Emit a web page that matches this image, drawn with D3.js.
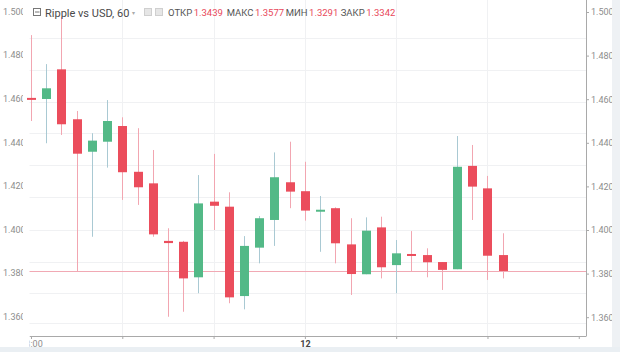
<!DOCTYPE html>
<html><head><meta charset="utf-8">
<script src="https://cdn.jsdelivr.net/npm/d3@7"></script>
<style>html,body{margin:0;padding:0;background:#fff;}svg{display:block;}</style>
</head><body>
<svg id="chart" width="620" height="352"></svg>
<script>
// ---- data ----
const opens  = [1.4606,1.4601,1.4737,1.4508,1.4359,1.4405,1.4477,1.4267,1.4214,1.3950,1.3946,1.3783,1.4130,1.4107,1.3697,1.3919,1.4046,1.4219,1.4178,1.4084,1.4100,1.3934,1.3797,1.4012,1.3839,1.3890,1.3885,1.3853,1.3820,1.4294,1.4191,1.3885];
const highs  = [1.4894,1.4761,1.4977,1.4546,1.4444,1.4596,1.4517,1.4467,1.4367,1.4008,1.3950,1.4252,1.4349,1.4173,1.3972,1.4064,1.4356,1.4405,1.4313,1.4156,1.4104,1.4054,1.4058,1.4061,1.3954,1.3995,1.3916,1.3853,1.4431,1.4390,1.4248,1.3985];
const lows   = [1.4500,1.4398,1.4436,1.3809,1.3969,1.4286,1.4138,1.4115,1.3969,1.3602,1.3625,1.3710,1.4000,1.3664,1.3636,1.3847,1.3927,1.4100,1.4043,1.3900,1.3847,1.3702,1.3797,1.3778,1.3710,1.3809,1.3783,1.3725,1.3820,1.4046,1.3771,1.3778];
const closes = [1.4602,1.4650,1.4485,1.4350,1.4410,1.4500,1.4265,1.4196,1.3980,1.3940,1.3778,1.4122,1.4111,1.3691,1.3927,1.4054,1.4242,1.4176,1.4089,1.4093,1.3939,1.3798,1.3997,1.3829,1.3893,1.3881,1.3852,1.3817,1.4290,1.4199,1.3882,1.3812];
const priceTicks = [1.500,1.480,1.460,1.440,1.420,1.400,1.380,1.360];
const gridPrices = [1.4881,1.4734,1.4587,1.4445,1.4298,1.4151,1.4000,1.3853,1.3711,1.3573];
const timeTickIdx = [0,6,12,18,24,30,36];
const timeTickLabels = ["18:00","","","12","","",""];
const legendLabels = ["ОТКР","МАКС","МИН","ЗАКР"];
const legendValues = ["1.3439","1.3577","1.3291","1.3342"];
const title = "Ripple vs USD, 60";

// ---- layout ----
const svg = d3.select("#chart");
const UP="#53b987", DOWN="#eb4d5c", UPW="#a9c9d3", DOWNW="#f2a6b1";
const x = d3.scaleLinear().domain([0,31]).range([31,502.7]);
const y = d3.scaleLinear().domain([1.5,1.36]).range([12,317.2]);
const plotL=29.5, plotR=586, plotB=336;

// grid
const g = svg.append("g");
g.selectAll(".hg").data(gridPrices).join("line")
  .attr("x1",plotL).attr("x2",plotR)
  .attr("y1",d=>Math.round(y(d))+0.5).attr("y2",d=>Math.round(y(d))+0.5)
  .attr("stroke","#f0f1f3").attr("stroke-width",1);
g.selectAll(".vg").data(timeTickIdx.slice(1,6)).join("line")
  .attr("x1",d=>Math.round(x(d))+0.5).attr("x2",d=>Math.round(x(d))+0.5)
  .attr("y1",0).attr("y2",plotB)
  .attr("stroke","#f0f1f3").attr("stroke-width",1);

// last price line
const lastY = Math.round(y(closes[closes.length-1]))+0.5;
svg.append("line")
  .attr("x1",plotL).attr("x2",plotR).attr("y1",lastY).attr("y2",lastY)
  .attr("stroke","#f1a9b4").attr("stroke-width",1);

// candles
const data = opens.map((o,i)=>({i,o,h:highs[i],l:lows[i],c:closes[i]}));
const cg = svg.append("g");
cg.selectAll(".wick").data(data).join("line")
  .attr("x1",d=>Math.round(x(d.i))+0.5).attr("x2",d=>Math.round(x(d.i))+0.5)
  .attr("y1",d=>y(d.h)).attr("y2",d=>y(d.l))
  .attr("stroke",d=>d.c>=d.o?UPW:DOWNW).attr("stroke-width",1);
cg.selectAll(".body").data(data).join("rect")
  .attr("x",d=>Math.round(x(d.i))-4).attr("width",9)
  .attr("y",d=>y(Math.max(d.o,d.c)))
  .attr("height",d=>Math.max(2,Math.abs(y(d.o)-y(d.c))))
  .attr("fill",d=>d.c>=d.o?UP:DOWN);

// right axis
const ra = svg.append("g").attr("transform",`translate(${plotR},0)`)
  .call(d3.axisRight(y).tickValues(priceTicks).tickFormat(d3.format(".3f")).tickSize(3).tickPadding(2));
ra.select(".domain").attr("d",`M0.5,0V${plotB}`).attr("stroke","#a9a9a9");
ra.selectAll(".tick line").attr("stroke","#a9a9a9");
ra.selectAll("text").attr("font-family","Roboto, sans-serif").attr("font-size",9).attr("fill","#8d8d8d");

// left price labels (clipped)
svg.append("clipPath").attr("id","lclip").append("rect").attr("x",0).attr("y",0).attr("width",23).attr("height",352);
svg.append("g").attr("clip-path","url(#lclip)")
  .selectAll("text").data(priceTicks).join("text")
  .attr("x",3).attr("y",d=>y(d)).attr("dy","0.32em")
  .attr("font-family","Roboto, sans-serif").attr("font-size",9).attr("fill","#8d8d8d")
  .text(d3.format(".3f"));

// bottom axis
svg.append("clipPath").attr("id","bclip").append("rect").attr("x",plotL).attr("y",0).attr("width",620).attr("height",352);
const xa = svg.append("g").attr("transform",`translate(0,${plotB})`).attr("clip-path","url(#bclip)")
  .call(d3.axisBottom(x).tickValues(timeTickIdx).tickFormat((d,i)=>timeTickLabels[i]).tickSize(3).tickPadding(2));
xa.select(".domain").attr("d",`M${plotL},0.5H${plotR+0.5}`).attr("stroke","#a9a9a9");
xa.selectAll(".tick line").attr("stroke","#a9a9a9");
xa.selectAll("text").attr("font-family","Roboto, sans-serif").attr("font-size",9)
  .attr("fill",(d,i)=>timeTickLabels[i]==="12"?"#444":"#8d8d8d")
  .attr("font-weight",(d,i)=>timeTickLabels[i]==="12"?"bold":"normal");

// borders (light frame right and bottom)
svg.append("rect").attr("x",612).attr("y",0).attr("width",8).attr("height",352).attr("fill","#eef1f4");
svg.append("rect").attr("x",0).attr("y",347).attr("width",620).attr("height",5).attr("fill","#eaeff3");

// legend / title
const lg = svg.append("g").attr("font-family","Roboto, sans-serif");
lg.append("rect").attr("x",33.5).attr("y",8.5).attr("width",7).attr("height",7).attr("fill","none").attr("stroke","#777");
lg.append("line").attr("x1",35).attr("x2",39.5).attr("y1",12).attr("y2",12).attr("stroke","#777");
const tt = lg.append("text").attr("x",45).attr("y",16.5).attr("font-size",11).attr("fill","#4a4a4a").text(title);
const tw = tt.node().getComputedTextLength();
lg.append("text").attr("x",45+tw+3).attr("y",15).attr("font-size",6).attr("fill","#aaa").text("▾");
[144,155].forEach(px=>{
  lg.append("rect").attr("x",px+0.5).attr("y",8.5).attr("width",7).attr("height",7).attr("fill","#e6e6e6").attr("stroke","#cfcfcf");
});
const legX = [168,226.7,285.7,340.7];
legendLabels.forEach((t,i)=>{
  const lt = lg.append("text").attr("x",legX[i]).attr("y",16).attr("font-size",9.5).attr("fill","#555").text(t);
  const w = lt.node().getComputedTextLength();
  lg.append("text").attr("x",legX[i]+w+1.5).attr("y",16).attr("font-size",9.5).attr("fill","#e8485a").text(legendValues[i]);
});
</script>
</body></html>
